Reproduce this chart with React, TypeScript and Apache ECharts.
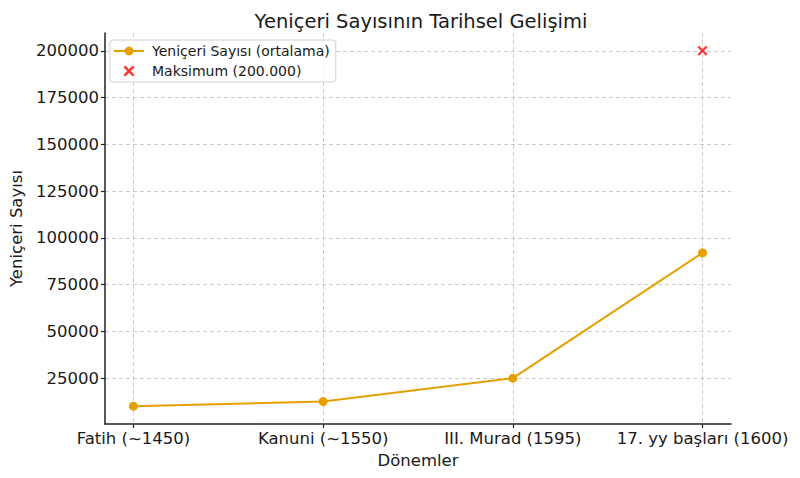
import React, { useEffect, useRef } from "react";
import * as echarts from "echarts";

const categories = ["Fatih (~1450)", "Kanuni (~1550)", "III. Murad (1595)", "17. yy başları (1600)"];
const janissaryCounts = [10000, 12500, 25000, 92000];
const maxIndex = 3;
const maxValue = 200000;
const yTicks = [25000, 50000, 75000, 100000, 125000, 150000, 175000, 200000];

const FONT = "DejaVu Sans";
const X_SYMBOL = "path://M0,1.6L1.6,0L5,3.4L8.4,0L10,1.6L6.6,5L10,8.4L8.4,10L5,6.6L1.6,10L0,8.4L3.4,5Z";

export default function App() {
  const ref = useRef<HTMLDivElement>(null);
  useEffect(() => {
    if (!ref.current) return;
    const chart = echarts.init(ref.current, null, { renderer: "svg" });
    const lineData = janissaryCounts.map((v, i) => [i, v]);
    chart.setOption({
      animation: false,
      backgroundColor: "#ffffff",
      title: {
        text: "Yeniçeri Sayısının Tarihsel Gelişimi",
        left: 416,
        textAlign: "center",
        top: 6,
        textStyle: { fontFamily: FONT, fontSize: 19.5, fontWeight: "normal", color: "#1a1a1a" },
      },
      legend: {
        orient: "vertical",
        left: 110,
        top: 40,
        padding: [4, 6, 4, 3],
        itemGap: 6,
        itemWidth: 30,
        itemHeight: 11,
        borderColor: "#d0d0d0",
        borderWidth: 1,
        borderRadius: 3,
        backgroundColor: "rgba(255,255,255,0.8)",
        textStyle: { fontFamily: FONT, fontSize: 14, color: "#1a1a1a", padding: [0, 0, 0, 3] },
        data: [
          { name: "Yeniçeri Sayısı (ortalama)" },
          { name: "Maksimum (200.000)", icon: X_SYMBOL, itemStyle: { color: "#ff0000" } },
        ],
      },
      grid: { left: 102, right: 69, top: 33, bottom: 54, containLabel: false },
      xAxis: {
        type: "value",
        min: -0.15,
        max: 3.15,
        name: "Dönemler",
        nameLocation: "middle",
        nameGap: 28,
        nameTextStyle: { fontFamily: FONT, fontSize: 16.5, color: "#1a1a1a" },
        axisLine: { show: true, onZero: false, lineStyle: { color: "#222", width: 1.5 } },
        axisTick: { show: true, customValues: [0, 1, 2, 3], length: 4, lineStyle: { color: "#222", width: 1.2 } },
        axisLabel: {
          customValues: [0, 1, 2, 3],
          formatter: (v: number) => categories[Math.round(v)] ?? "",
          fontFamily: FONT,
          fontSize: 16.5,
          color: "#1a1a1a",
          margin: 6,
        },
        splitLine: { show: true, lineStyle: { color: "#cccccc", type: [4, 3], width: 1 } },
      },
      yAxis: {
        type: "value",
        min: 500,
        max: 209500,
        name: "Yeniçeri Sayısı",
        nameLocation: "middle",
        nameGap: 80,
        nameTextStyle: { fontFamily: FONT, fontSize: 16.5, color: "#1a1a1a" },
        axisLine: { show: true, onZero: false, lineStyle: { color: "#222", width: 1.5 } },
        axisTick: { show: true, customValues: yTicks, length: 4, lineStyle: { color: "#222", width: 1.2 } },
        axisLabel: {
          customValues: yTicks,
          formatter: (v: number) => String(v),
          fontFamily: FONT,
          fontSize: 16.5,
          color: "#1a1a1a",
          margin: 6,
        },
        splitLine: { show: true, lineStyle: { color: "#cccccc", type: [4, 3], width: 1 } },
      },
      series: [
        {
          name: "Yeniçeri Sayısı (ortalama)",
          type: "line",
          data: lineData,
          symbol: "circle",
          symbolSize: 9,
          lineStyle: { color: "#e69f00", width: 2 },
          itemStyle: { color: "#e69f00" },
          z: 3,
        },
        {
          name: "Maksimum (200.000)",
          type: "scatter",
          data: [[maxIndex, maxValue]],
          symbol: X_SYMBOL,
          symbolSize: 10,
          itemStyle: { color: "#ff0000" },
          z: 4,
        },
      ],
    });
    return () => chart.dispose();
  }, []);
  return <div ref={ref} style={{ width: 800, height: 478, position: "absolute", left: 0, top: 0 }} />;
}
